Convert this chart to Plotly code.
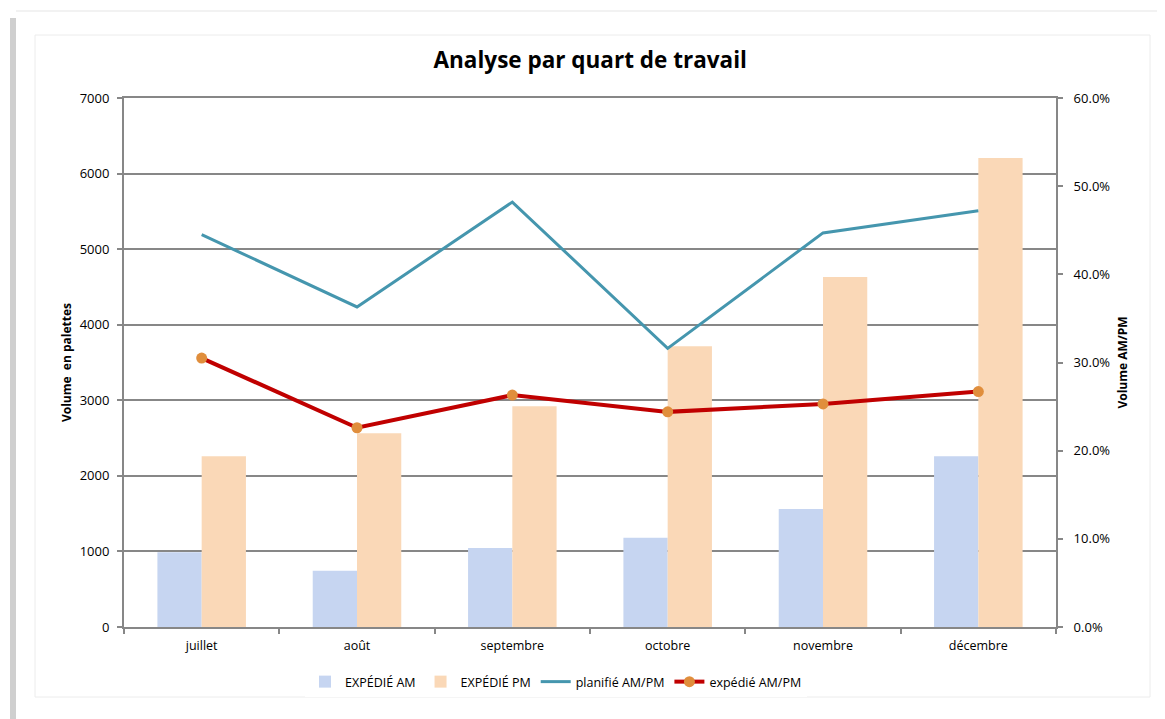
import plotly.graph_objects as go

months = ["juillet", "août", "septembre", "octobre", "novembre", "décembre"]
expedie_am = [990, 745, 1045, 1180, 1560, 2260]
expedie_pm = [2260, 2565, 2920, 3715, 4630, 6205]
planifie_ratio = [0.445, 0.363, 0.482, 0.316, 0.447, 0.472]
expedie_ratio = [0.305, 0.226, 0.263, 0.244, 0.253, 0.267]

OFF = 8  # page body margin
W, H = 1165 - OFF, 719 - OFF
L, R, T, B = 124 - OFF, 1056 - OFF, 98 - OFF, 627 - OFF


def px(x):
    return (x - OFF - L) / (R - L)


def py(y):
    return (B - (y - OFF)) / (B - T)


FONT = "Open Sans"

fig = go.Figure()
fig.add_trace(go.Bar(x=months, y=expedie_am, name="EXPÉDIÉ AM",
                     marker=dict(color="#C6D5F1", line=dict(width=0))))
fig.add_trace(go.Bar(x=months, y=expedie_pm, name="EXPÉDIÉ PM",
                     marker=dict(color="#FAD8B7", line=dict(width=0))))
fig.add_trace(go.Scatter(x=months, y=planifie_ratio, name="planifié AM/PM",
                         mode="lines", yaxis="y2",
                         line=dict(color="#4596AE", width=3)))
fig.add_trace(go.Scatter(x=months, y=expedie_ratio, name="expédié AM/PM",
                         mode="lines+markers", yaxis="y2",
                         line=dict(color="#C00000", width=4),
                         marker=dict(color="#E08E3C", size=11)))

shapes = [
    dict(type="rect", xref="paper", yref="paper",
         x0=px(10), x1=px(16), y0=py(18), y1=py(719),
         line=dict(width=0), fillcolor="#cfcfcf", layer="below"),
    dict(type="line", xref="paper", yref="paper",
         x0=px(16), x1=px(1165), y0=py(11), y1=py(11),
         line=dict(color="#f2f2f2", width=2), layer="below"),
    dict(type="rect", xref="paper", yref="paper",
         x0=px(35), x1=px(1150), y0=py(35), y1=py(697),
         line=dict(color="#ececec", width=1), fillcolor="rgba(0,0,0,0)",
         layer="below"),
]

fig.update_layout(
    width=W, height=H,
    margin=dict(l=L, r=W - R, t=T, b=H - B),
    paper_bgcolor="white", plot_bgcolor="white",
    font=dict(family=FONT, size=13, color="#000000"),
    title=dict(text="<b>Analyse par quart de travail</b>", x=px(593), xanchor="center",
               y=1 - (60 - OFF) / H, yanchor="middle",
               font=dict(family=FONT, size=22.5, color="#000000")),
    barmode="group", bargap=0.43, bargroupgap=0,
    xaxis=dict(type="category", showline=True, linecolor="#878787", linewidth=2,
               mirror=True,
               ticks="outside", tickson="boundaries", ticklen=5, tickwidth=1.5,
               tickcolor="#878787", showgrid=False, ticklabelstandoff=6,
               tickfont=dict(family=FONT, size=12.5)),
    yaxis=dict(range=[0, 7000], dtick=1000, showline=True, linecolor="#878787",
               linewidth=2, ticks="outside", ticklen=5, tickwidth=1.5,
               tickcolor="#878787", showgrid=True, gridcolor="#878787", gridwidth=2,
               zeroline=False, tickformat="d", ticklabelstandoff=5,
               tickfont=dict(family=FONT, size=13),
               title=dict(text="<b>Volume  en palettes</b>", standoff=5,
                          font=dict(family=FONT, size=12))),
    yaxis2=dict(range=[0, 0.6], dtick=0.1, overlaying="y", side="right",
                showline=True, linecolor="#878787", linewidth=2,
                ticks="outside", ticklen=5, tickwidth=1.5, tickcolor="#878787",
                showgrid=False, zeroline=False, tickformat=".1%",
                ticklabelstandoff=8,
                tickfont=dict(family=FONT, size=13),
                title=dict(text="<b>Volume AM/PM</b>", standoff=9,
                           font=dict(family=FONT, size=12))),
    legend=dict(orientation="h", x=px(556), xanchor="center",
                y=py(682), yanchor="middle",
                font=dict(family=FONT, size=12.5), itemwidth=30,
                traceorder="normal"),
    shapes=shapes,
)

fig.write_html("out.html")
